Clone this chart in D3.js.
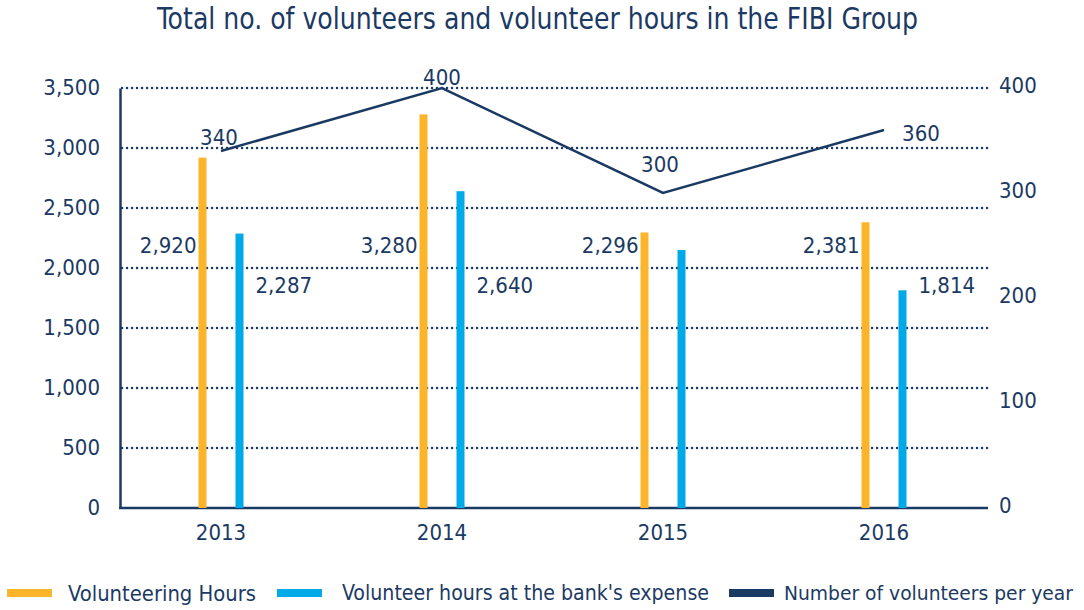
<!DOCTYPE html>
<html>
<head>
<meta charset="utf-8">
<script src="https://cdn.jsdelivr.net/npm/d3@7/dist/d3.min.js"></script>
<style>
  html, body { margin: 0; padding: 0; background: #fff; }
  svg text { font-family: "Liberation Sans Narrow", "DejaVu Sans Condensed", "Roboto", sans-serif; fill: #1b3a63; }
</style>
</head>
<body>
<svg id="chart" width="1084" height="610"></svg>
<script>
// ---- data ----
const years = ["2013", "2014", "2015", "2016"];
const volunteeringHours = [2920, 3280, 2296, 2381];
const bankHours = [2287, 2640, 2150, 1814];
const bankHoursLabelled = [true, true, false, true];
const volunteers = [340, 400, 300, 360];
const leftTicks = [0, 500, 1000, 1500, 2000, 2500, 3000, 3500];
const rightTicks = [0, 100, 200, 300, 400];
const seriesNames = ["Volunteering Hours", "Volunteer hours at the bank's expense", "Number of volunteers per year"];
const title = "Total no. of volunteers and volunteer hours in the FIBI Group";

// ---- style ----
const NAVY = "#1b3a63", ORANGE = "#fbb52b", BLUE = "#00a9e7";
const svg = d3.select("#chart");
const plotL = 120, plotR = 988, plotT = 88, plotB = 508;

const x = d3.scaleBand().domain(years).range([110.5, 994.5]);
const yL = d3.scaleLinear().domain([0, 3500]).range([plotB, plotT]);
const yR = d3.scaleLinear().domain([0, 400]).range([plotB, plotT]);
const fmt = d3.format(",");

// title
svg.append("text").attr("x", 537.5).attr("y", 29).attr("text-anchor", "middle")
  .attr("textLength", 761).attr("lengthAdjust", "spacingAndGlyphs")
  .style("font-size", "30px").text(title);

// gridlines
svg.append("g").selectAll("line").data(leftTicks.filter(d => d > 0)).join("line")
  .attr("x1", plotL + 2).attr("x2", plotR).attr("y1", d => yL(d)).attr("y2", d => yL(d))
  .attr("stroke", NAVY).attr("stroke-width", 2.4).attr("stroke-linecap", "round")
  .attr("stroke-dasharray", "0.1 4.9");

// left axis
const gL = svg.append("g").attr("transform", `translate(${plotL},0)`)
  .call(d3.axisLeft(yL).tickValues(leftTicks).tickFormat(fmt).tickSize(0).tickPadding(20));
gL.select(".domain").attr("stroke", NAVY).attr("stroke-width", 2.5);
gL.selectAll("text").style("font-size", "22px").attr("fill", NAVY).attr("dy", "0.3em");

// right axis
const gR = svg.append("g").attr("transform", `translate(${plotR},0)`)
  .call(d3.axisRight(yR).tickValues(rightTicks).tickSize(0).tickPadding(11));
gR.select(".domain").remove();
gR.selectAll("text").style("font-size", "22px").attr("fill", NAVY).attr("dy", "0.2em");

// bottom axis
const gB = svg.append("g").attr("transform", `translate(0,${plotB})`)
  .call(d3.axisBottom(x).tickSize(0).tickPadding(16));
gB.select(".domain").remove();
gB.selectAll("text").style("font-size", "22px").attr("fill", NAVY);
svg.append("line").attr("x1", plotL - 1).attr("x2", plotR).attr("y1", plotB).attr("y2", plotB)
  .attr("stroke", NAVY).attr("stroke-width", 2.5);

// bars
const barW = 8, off = 18.5;
const cx = d => x(d) + x.bandwidth() / 2;
svg.append("g").selectAll("rect").data(years).join("rect")
  .attr("x", (d) => cx(d) - off - barW / 2)
  .attr("y", (d, i) => yL(volunteeringHours[i]))
  .attr("width", barW).attr("height", (d, i) => plotB - yL(volunteeringHours[i]))
  .attr("fill", ORANGE);
svg.append("g").selectAll("rect").data(years).join("rect")
  .attr("x", (d) => cx(d) + off - barW / 2)
  .attr("y", (d, i) => yL(bankHours[i]))
  .attr("width", barW).attr("height", (d, i) => plotB - yL(bankHours[i]))
  .attr("fill", BLUE);

// bar labels
svg.append("g").selectAll("text").data(years).join("text")
  .attr("x", d => cx(d) - off - barW / 2 - 2)
  .attr("y", yL(2190)).attr("dy", "0.35em").attr("text-anchor", "end")
  .style("font-size", "22px").text((d, i) => fmt(volunteeringHours[i]));
svg.append("g").selectAll("text").data(years.filter((d, i) => bankHoursLabelled[i])).join("text")
  .attr("x", d => cx(d) + off + barW / 2 + 12)
  .attr("y", yL(1855)).attr("dy", "0.35em").attr("text-anchor", "start")
  .style("font-size", "22px").text(d => fmt(bankHours[years.indexOf(d)]));

// line
const line = d3.line().x((d, i) => cx(years[i])).y(d => yR(d));
svg.append("path").datum(volunteers).attr("d", line)
  .attr("fill", "none").attr("stroke", NAVY).attr("stroke-width", 2.5);
const lblOff = [[-2, -14], [0, -11], [-3, -29], [37, 3]];
svg.append("g").selectAll("text").data(volunteers).join("text")
  .attr("x", (d, i) => cx(years[i]) + lblOff[i][0])
  .attr("y", (d, i) => yR(d) + lblOff[i][1]).attr("dy", "0.35em").attr("text-anchor", "middle")
  .style("font-size", "22px").text(d => d);

// legend
const legendItems = [
  { name: seriesNames[0], color: ORANGE, x: 7, w: 188, tx: 61, fs: 22 },
  { name: seriesNames[1], color: BLUE, x: 277, w: 367, tx: 65, fs: 21 },
  { name: seriesNames[2], color: NAVY, x: 729, w: 289, tx: 55, fs: 20 }
];
const lg = svg.append("g").selectAll("g").data(legendItems).join("g")
  .attr("transform", d => `translate(${d.x},593)`);
lg.append("rect").attr("x", 0).attr("y", -4).attr("width", 45).attr("height", 8).attr("fill", d => d.color);
lg.append("text").attr("x", d => d.tx)
  .attr("y", 0).attr("dy", "0.35em")
  .attr("textLength", d => d.w).attr("lengthAdjust", "spacingAndGlyphs")
  .style("font-size", d => d.fs + "px").text(d => d.name);
</script>
</body>
</html>
